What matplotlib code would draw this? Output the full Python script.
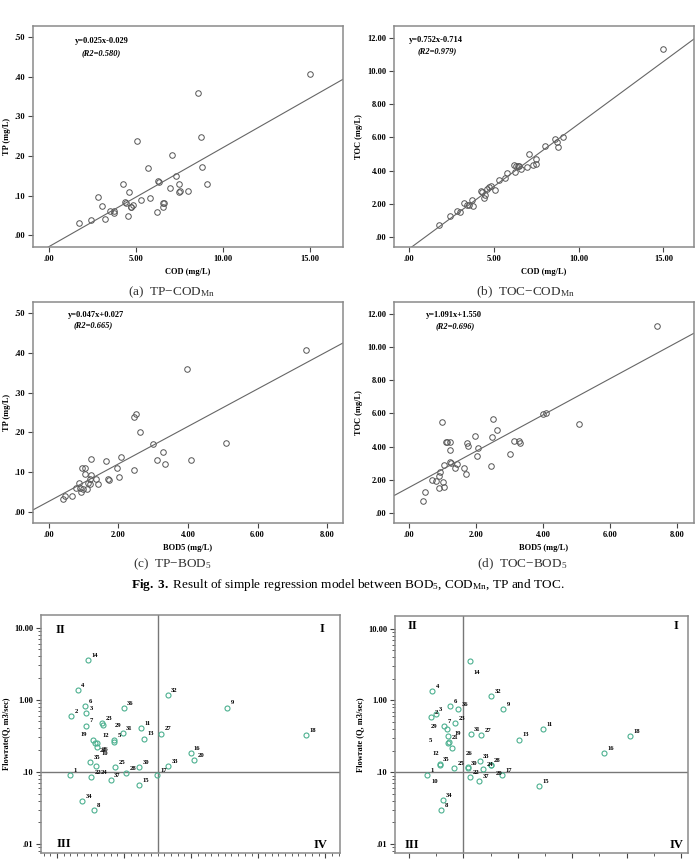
import numpy as np
import matplotlib
matplotlib.use("Agg")
import matplotlib.pyplot as plt
from matplotlib.ticker import FuncFormatter, MultipleLocator, LogLocator, NullFormatter

plt.rcParams['font.family'] = ['Liberation Serif', 'DejaVu Serif']
plt.rcParams['mathtext.fontset'] = 'custom'
plt.rcParams['mathtext.rm'] = 'Liberation Serif'
plt.rcParams['mathtext.it'] = 'Liberation Serif:italic'
plt.rcParams['mathtext.bf'] = 'Liberation Serif:bold'

# ---- (a) TP vs COD ----
cod_a = [1.74, 2.43, 2.80, 3.03, 3.24, 3.49, 3.72, 3.75, 4.25, 4.35, 4.44, 4.52, 4.60,
         4.69, 4.73, 4.81, 5.08, 5.29, 5.67, 5.80, 6.19, 6.26, 6.32, 6.53, 6.57, 6.59,
         6.95, 7.09, 7.32, 7.45, 7.47, 7.55, 8.01, 8.58, 8.75, 8.81, 9.08, 15.02]
tp_a = [0.031, 0.039, 0.096, 0.073, 0.040, 0.061, 0.061, 0.055, 0.128, 0.083, 0.082,
        0.049, 0.109, 0.070, 0.071, 0.077, 0.238, 0.089, 0.170, 0.093, 0.059, 0.137,
        0.134, 0.071, 0.081, 0.080, 0.120, 0.203, 0.150, 0.130, 0.108, 0.112, 0.111,
        0.359, 0.247, 0.173, 0.129, 0.407]

# ---- (b) TOC vs COD ----
cod_b = [1.74, 2.43, 2.82, 3.02, 3.23, 3.43, 3.55, 3.71, 3.77, 4.24, 4.30, 4.40, 4.50,
         4.62, 4.69, 4.81, 5.07, 5.29, 5.66, 5.80, 6.17, 6.27, 6.33, 6.43, 6.51, 6.57,
         6.94, 7.08, 7.32, 7.46, 7.50, 8.00, 8.58, 8.74, 8.80, 9.05, 15.0]
toc_b = [0.74, 1.25, 1.57, 1.53, 2.03, 1.93, 1.93, 2.25, 1.85, 2.75, 2.71, 2.35, 2.55,
         2.87, 3.00, 3.08, 2.83, 3.46, 3.56, 3.84, 4.32, 3.94, 4.28, 4.28, 4.28, 4.08,
         4.22, 5.00, 4.36, 4.40, 4.70, 5.49, 5.91, 5.69, 5.43, 6.03, 11.34]

# ---- (c) TP vs BOD5 ----
bod_c = [0.40, 0.47, 0.65, 0.79, 0.87, 0.88, 0.91, 0.96, 0.98, 1.04, 1.04, 1.09, 1.11,
         1.17, 1.19, 1.22, 1.22, 1.36, 1.41, 1.63, 1.69, 1.73, 1.97, 2.01, 2.06, 2.45,
         2.46, 2.51, 2.62, 3.00, 3.12, 3.29, 3.33, 3.98, 4.08, 5.08, 7.40]
tp_c = [0.032, 0.040, 0.041, 0.061, 0.074, 0.061, 0.050, 0.111, 0.057, 0.110, 0.096,
        0.058, 0.074, 0.082, 0.070, 0.134, 0.093, 0.084, 0.070, 0.127, 0.082, 0.081,
        0.111, 0.089, 0.137, 0.238, 0.106, 0.247, 0.202, 0.170, 0.130, 0.150, 0.120,
        0.358, 0.130, 0.173, 0.406]

# ---- (d) TOC vs BOD5 ----
bod_d = [0.42, 0.47, 0.66, 0.79, 0.87, 0.88, 0.90, 0.96, 1.00, 1.03, 1.04, 1.09, 1.12,
         1.21, 1.22, 1.22, 1.24, 1.37, 1.42, 1.63, 1.69, 1.72, 1.75, 1.97, 2.01, 2.05,
         2.45, 2.46, 2.51, 2.61, 2.99, 3.11, 3.28, 3.31, 3.99, 4.07, 5.06, 7.38]
toc_d = [0.74, 1.24, 2.00, 1.94, 1.48, 2.24, 2.46, 5.46, 1.84, 1.54, 2.88, 4.28, 4.28,
         3.06, 4.28, 3.80, 3.00, 2.70, 2.96, 2.72, 2.34, 4.24, 4.06, 4.66, 3.44, 3.90,
         2.82, 4.60, 5.66, 4.98, 3.54, 4.34, 4.34, 4.22, 5.94, 6.00, 5.38, 11.28]

equations = ["y=0.025x-0.029", "y=0.752x-0.714", "y=0.047x+0.027", "y=1.091x+1.550"]
r2_texts = ["(R2=0.580)", "(R2=0.979)", "(R2=0.665)", "(R2=0.696)"]
coefs = [(0.025, -0.029), (0.752, -0.714), (0.047, 0.027), (1.091, 1.550)]
captions = [r"(a)  TP$-$COD$_{\mathrm{Mn}}$", r"(b)  TOC$-$COD$_{\mathrm{Mn}}$",
            r"(c)  TP$-$BOD$_{5}$", r"(d)  TOC$-$BOD$_{5}$"]

# ---- flowrate quadrant plots ----
site_e = [str(i) for i in range(1, 38)]
x_e = [0.19, 0.214, 0.438, 0.309, 0.85, 0.423, 0.433, 0.547, 2.54, 0.597, 1.249, 0.592,
       1.303, 0.467, 1.219, 1.99, 1.493, 3.72, 0.542, 2.045, 0.56, 0.503, 0.672, 0.582,
       0.87, 0.846, 1.557, 1.025, 0.69, 1.229, 0.98, 1.647, 1.66, 0.378, 0.49, 0.995, 0.80]
q_e = [0.091, 0.59, 0.66, 1.38, 0.275, 0.83, 0.44, 0.030, 0.78, 0.225, 0.41, 0.255,
       0.29, 3.52, 0.065, 0.185, 0.090, 0.32, 0.28, 0.146, 0.25, 0.085, 0.47, 0.119,
       0.116, 0.26, 0.34, 0.096, 0.45, 0.116, 0.35, 1.17, 0.121, 0.040, 0.135, 0.77, 0.076]

site_f = [str(i) for i in range(1, 38)]
x_f = [0.33, 0.41, 0.49, 0.422, 0.716, 0.752, 0.636, 0.593, 1.731, 0.57, 2.47, 0.789,
       2.03, 1.125, 2.39, 3.58, 1.713, 4.055, 0.716, 1.50, 0.725, 1.113, 0.85, 1.358,
       0.826, 1.09, 1.32, 1.50, 0.70, 1.077, 1.13, 1.51, 1.30, 0.618, 0.563, 0.905, 1.285]
q_f = [0.091, 0.59, 0.65, 1.35, 0.253, 0.83, 0.44, 0.030, 0.77, 0.128, 0.405, 0.22,
       0.285, 3.5, 0.065, 0.185, 0.091, 0.32, 0.32, 0.128, 0.26, 0.085, 0.48, 0.112,
       0.115, 0.118, 0.334, 0.125, 0.40, 0.115, 0.345, 1.15, 0.142, 0.041, 0.13, 0.76, 0.075]

W, H = 696, 860
fig = plt.figure(figsize=(W / 100, H / 100), dpi=100)


def px_axes(l, t, r, b):
    return fig.add_axes([l / W, 1 - b / H, (r - l) / W, (b - t) / H])


frame_col = '#8a8a8a'


def dot_fmt(v, pos):
    s = "%.2f" % v
    if s.startswith("0."):
        s = s[1:]
    return s


def style_box(ax):
    for sp in ax.spines.values():
        sp.set_color(frame_col)
        sp.set_linewidth(1.1)
    ax.tick_params(direction='out', length=3.5, width=0.8, color='#444444',
                   labelsize=6, pad=2)
    for lab in ax.get_xticklabels() + ax.get_yticklabels():
        lab.set_fontweight('bold')


boxes = [(33, 26, 343, 247), (394, 26, 694, 247), (33, 302, 343, 523), (394, 302, 694, 523)]
xdata = [cod_a, cod_b, bod_c, bod_d]
ydata = [tp_a, toc_b, tp_c, toc_d]
xlims = [(-0.92, 16.9), (-0.89, 16.8), (-0.46, 8.46), (-0.46, 8.5)]
ylims = [(-0.03, 0.528), (-0.6, 12.7), (-0.0275, 0.5275), (-0.6, 12.7)]
xsteps = [5, 5, 2, 2]
ysteps = [0.1, 2, 0.1, 2]
xlabels = ["COD (mg/L)", "COD (mg/L)", "BOD5 (mg/L)", "BOD5 (mg/L)"]
ylabels = ["TP (mg/L)", "TOC (mg/L)", "TP (mg/L)", "TOC (mg/L)"]
eq_pos = [(0.135, 0.932, 0.158, 0.878), (0.05, 0.937, 0.077, 0.887),
          (0.113, 0.941, 0.132, 0.896), (0.107, 0.941, 0.137, 0.891)]
cap_pos = [(172, 292), (525, 292), (172, 564), (522, 564)]

for i in range(4):
    ax = px_axes(*boxes[i])
    ax.plot(xdata[i], ydata[i], 'o', mfc='none', mec='#555555', mew=0.7, ms=4)
    xx = np.array(xlims[i])
    a, b = coefs[i]
    ax.plot(xx, a * xx + b, color='#666666', lw=0.8)
    ax.set_xlim(xlims[i])
    ax.set_ylim(ylims[i])
    ax.xaxis.set_major_locator(MultipleLocator(xsteps[i]))
    ax.yaxis.set_major_locator(MultipleLocator(ysteps[i]))
    ax.xaxis.set_major_formatter(FuncFormatter(dot_fmt))
    ax.yaxis.set_major_formatter(FuncFormatter(dot_fmt))
    style_box(ax)
    ax.set_xlabel(xlabels[i], fontsize=6, fontweight='bold', labelpad=4)
    ax.set_ylabel(ylabels[i], fontsize=6, fontweight='bold', labelpad=3)
    ex, ey, rx, ry = eq_pos[i]
    ax.text(ex, ey, equations[i], transform=ax.transAxes, fontsize=6,
            fontweight='bold', va='center')
    ax.text(rx, ry, r2_texts[i], transform=ax.transAxes, fontsize=6,
            fontweight='bold', style='italic', va='center')
    cx, cy = cap_pos[i]
    fig.text(cx / W, 1 - cy / H, captions[i], fontsize=9.5, ha='center', va='center',
             color='#333333')

fig.text(348 / W, 1 - 585 / H,
         r"$\mathbf{Fig.\ 3.}$ Result of simple regression model between BOD$_5$, "
         r"COD$_{\mathrm{Mn}}$, TP and TOC.",
         fontsize=9.5, ha='center', va='center')

# ---- quadrant panels ----
green = '#4cb08f'
quad_boxes = [(41, 615, 340, 853), (395, 616, 688, 853)]
quad_x = [x_e, x_f]
quad_q = [q_e, q_f]
quad_sites = [site_e, site_f]
quad_xlim = [(-0.24, 4.22), (-0.26, 5.13)]
quad_vline = [1.5, 1.0]
quad_major = [1, 1]
quad_minor = [0.1, 0.5]
quad_ylabel = ["Flowrate(Q, m3/sec)", "Flowrate (Q, m3/sec)"]
roman_pos = [
    {"II": (0.064, 0.937), "I": (0.94, 0.94), "III": (0.077, 0.038), "IV": (0.936, 0.034)},
    {"II": (0.061, 0.958), "I": (0.959, 0.958), "III": (0.058, 0.034), "IV": (0.959, 0.034)},
]
# label offsets (points) that differ from the default up-right placement
label_off = [
    {"10": (3, -7), "29": (8, -2), "19": (-9, 2), "21": (4, -7), "26": (-9, -7),
     "12": (4, 3), "24": (3, -6)},
    {"14": (2, -10), "5": (-14, 0), "12": (-14, -6), "10": (-6, -14), "26": (-2, 8),
     "19": (5, 0), "29": (-12, 0), "20": (4, -8)},
]

for k in range(2):
    ax = px_axes(*quad_boxes[k])
    ax.set_yscale('log')
    ax.set_xlim(quad_xlim[k])
    ax.set_ylim(0.0075, 15)
    ax.axvline(quad_vline[k], color='#777777', lw=1.0)
    ax.axhline(0.1, color='#777777', lw=1.0)
    ax.plot(quad_x[k], quad_q[k], 'o', mfc='none', mec=green, mew=0.8, ms=3.6)
    for s, xv, qv in zip(quad_sites[k], quad_x[k], quad_q[k]):
        off = label_off[k].get(s, (2.5, 1.5))
        ax.annotate(s, (xv, qv), xytext=off, textcoords='offset points',
                    fontsize=4.8, fontweight='bold', ha='left', va='bottom')
    ax.xaxis.set_major_locator(MultipleLocator(quad_major[k]))
    ax.xaxis.set_minor_locator(MultipleLocator(quad_minor[k]))
    ax.xaxis.set_major_formatter(NullFormatter())
    ax.yaxis.set_major_locator(LogLocator(base=10, numticks=10))
    ax.yaxis.set_minor_locator(LogLocator(base=10, subs=np.arange(2, 10), numticks=10))
    ax.yaxis.set_minor_formatter(NullFormatter())
    ax.yaxis.set_major_formatter(FuncFormatter(lambda v, p: dot_fmt(v, p)))
    style_box(ax)
    ax.tick_params(which='minor', direction='out', length=2.5, width=0.6, color='#444444')
    ax.set_ylabel(quad_ylabel[k], fontsize=6, fontweight='bold', labelpad=3)
    for r, (rx, ry) in roman_pos[k].items():
        ax.text(rx, ry, r, transform=ax.transAxes, fontsize=9, fontweight='bold',
                ha='center', va='center')

fig.savefig("out.png", dpi=100)
